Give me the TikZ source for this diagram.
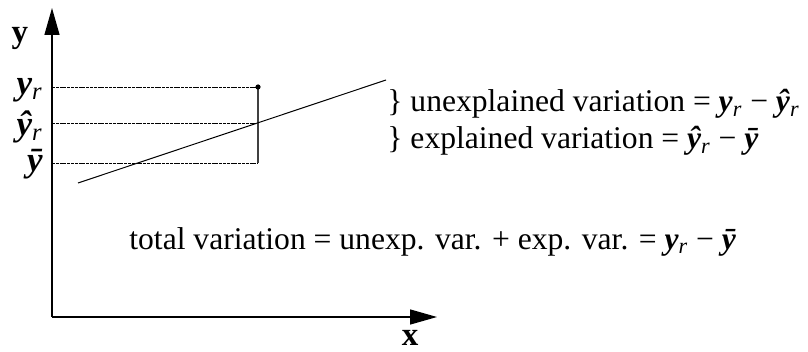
\documentclass[tikz,border=0pt]{standalone}
\usepackage{fontspec}
\setmainfont{Liberation Serif}
\usetikzlibrary{arrows.meta,positioning}
\newcommand{\yb}{{\bfseries\itshape y}}
\newcommand{\yr}{\yb\textsubscript{\itshape r}}
\newcommand{\yhr}{{\bfseries\itshape \^y}\textsubscript{\itshape r}}
\newcommand{\ybar}{{\bfseries\itshape \=y}}

\begin{document}
\begin{tikzpicture}[x=0.5pt,y=-0.5pt,
  axis/.style={-{Triangle[length=13.5pt,width=7.5pt]},line width=0.7pt},
  guide/.style={dash pattern=on 1.5pt off 0.4pt,line width=0.45pt},
  lbl/.style={font=\fontsize{15.8}{18}\selectfont,inner sep=0pt},
  tick/.style={font=\fontsize{17.5}{20}\selectfont,inner sep=0pt}]
  \useasboundingbox (0,0) rectangle (808,352);
  % Axes
  \coordinate (O) at (52,317);
  \coordinate (ytip) at (52,8);
  \coordinate (xtip) at (437,317);
  \draw[axis] (O) -- (ytip);
  \draw[axis] (O) -- (xtip);
  \node[tick,font=\fontsize{16.5}{19}\selectfont\bfseries] (ylab) at (20,38) {y};
  \node[tick,font=\fontsize{16.5}{19}\selectfont\bfseries] (xlab) at (410,338) {x};
  % Levels on the y axis
  \node[tick,anchor=east] (yr) at (43,90) {\yr};
  \node[tick,anchor=east] (yhr) at (43,127) {\yhr};
  \node[tick,anchor=east] (ybar) at (43,164) {\ybar};
  \coordinate (yrA) at (52,87);   \coordinate (yrB) at (258,87);
  \coordinate (yhA) at (52,123);  \coordinate (yhB) at (258,123);
  \coordinate (ymA) at (52,163);  \coordinate (ymB) at (258,163);
  \draw[guide] (yrA) -- (yrB);
  \draw[guide] (yhA) -- (yhB);
  \draw[guide] (ymA) -- (ymB);
  % Observation and deviation
  \draw[line width=0.6pt,black!75] (yrB) -- (ymB);
  \fill (yrB) circle (1.3pt);
  % Regression line
  \coordinate (reg1) at (78,183);
  \coordinate (reg2) at (386,80);
  \draw[line width=0.5pt] (reg1) -- (reg2);
  % Labels
  \node[lbl,anchor=west] (unexp) at (387,104) {\} unexplained variation = \yr\ − \yhr};
  \node[lbl,anchor=west] (exp) at (387,141) {\} explained variation = \yhr\ − \ybar};
  \node[lbl,anchor=west] (total) at (129,242) {total variation = unexp. var. + exp. var. = \yr\ − \ybar};
\end{tikzpicture}
\end{document}
